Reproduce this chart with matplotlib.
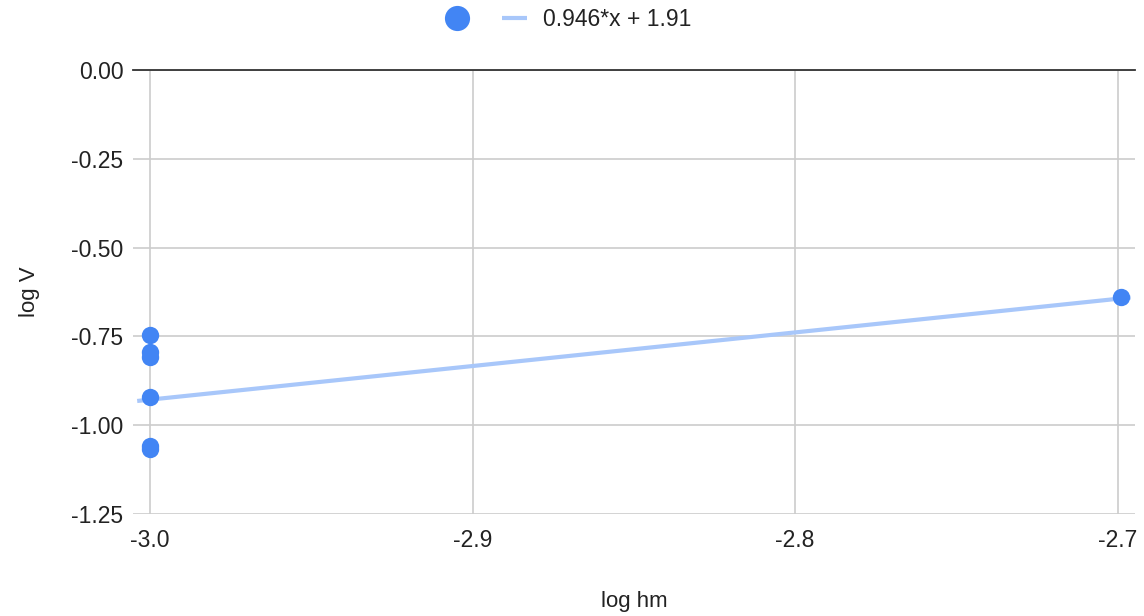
import matplotlib.pyplot as plt
import numpy as np

plt.rcParams['font.family'] = ['Liberation Sans', 'DejaVu Sans']

# data
log_hm = [-3.0, -3.0, -3.0, -3.0, -3.0, -3.0, -2.699]
log_v = [-0.746, -0.793, -0.807, -0.920, -1.058, -1.068, -0.638]

# trendline from the legend label
slope = 0.946
intercept = 1.91
trend_x = [-3.004, -2.696]

x_ticks = [-3.0, -2.9, -2.8, -2.7]
y_ticks = [0.0, -0.25, -0.5, -0.75, -1.0, -1.25]

blue = '#4285f4'
trend_col = '#a8c7fa'

fig = plt.figure(figsize=(11.44, 6.16), dpi=100)
ax = fig.add_axes([133 / 1144, 102 / 616, 1002 / 1144, 444 / 616])

tx = np.array(trend_x)
ax.plot(tx, slope * tx + intercept, color=trend_col, linewidth=3,
        solid_capstyle='butt', zorder=2, label='%.3f*x + %.2f' % (slope, intercept))
ax.plot(log_hm, log_v, 'o', color=blue, markersize=12.5, markeredgewidth=0,
        zorder=3, label=' ')

ax.set_xlim(-3.0053, -2.6946)
ax.set_ylim(-1.25, 0.0)
ax.set_xticks(x_ticks)
ax.set_xticklabels(['%.1f' % t for t in x_ticks])
ax.set_yticks(y_ticks)
ax.set_yticklabels(['%.2f' % t for t in y_ticks])
ax.grid(True, color='#cccccc', linewidth=1.2, zorder=0)
ax.set_axisbelow(True)
for s in ['left', 'right', 'bottom']:
    ax.spines[s].set_visible(False)
ax.spines['top'].set_color('#333333')
ax.spines['top'].set_linewidth(1.3)
ax.tick_params(length=0, labelsize=16.5, colors='#222222', pad=11)
ax.tick_params(axis='y', pad=7)

ax.set_xlabel('log hm', fontsize=16, color='#222222', labelpad=28)
ax.set_ylabel('log V', fontsize=16, color='#222222', labelpad=22)

h, l = ax.get_legend_handles_labels()
leg = fig.legend([h[1], h[0]], [l[1], l[0]], loc='center',
                 bbox_to_anchor=(568 / 1144, 1 - 20 / 616), ncol=2,
                 frameon=False, fontsize=16.5, handlelength=1.1,
                 columnspacing=0.4, handletextpad=0.7, markerscale=1.45)
for t in leg.get_texts():
    t.set_color('#222222')

plt.savefig('out.png', dpi=100)
